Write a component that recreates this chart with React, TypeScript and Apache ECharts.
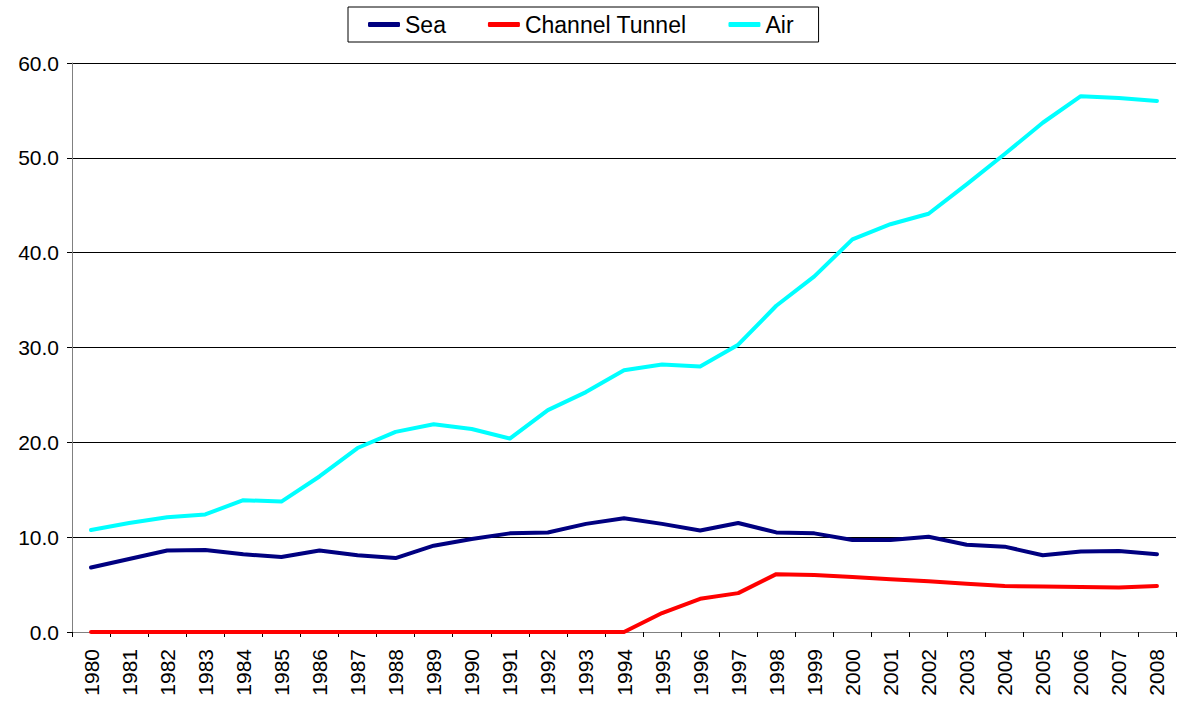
import React, { useEffect, useRef } from "react";
import * as echarts from "echarts";

const years = [
  "1980","1981","1982","1983","1984","1985","1986","1987","1988","1989",
  "1990","1991","1992","1993","1994","1995","1996","1997","1998","1999",
  "2000","2001","2002","2003","2004","2005","2006","2007","2008",
];

const sea = [
  6.8, 7.7, 8.6, 8.65, 8.2, 7.9, 8.6, 8.1, 7.8, 9.1,
  9.8, 10.4, 10.5, 11.4, 12.0, 11.4, 10.7, 11.5, 10.5, 10.4,
  9.7, 9.7, 10.05, 9.2, 9.0, 8.1, 8.5, 8.55, 8.2,
];

const channelTunnel = [
  0, 0, 0, 0, 0, 0, 0, 0, 0, 0,
  0, 0, 0, 0, 0, 2.0, 3.5, 4.1, 6.1, 6.0,
  5.8, 5.55, 5.35, 5.1, 4.85, 4.8, 4.75, 4.7, 4.85,
];

const air = [
  10.75, 11.5, 12.1, 12.4, 13.9, 13.75, 16.4, 19.4, 21.1, 21.9,
  21.4, 20.4, 23.4, 25.3, 27.6, 28.2, 28.0, 30.3, 34.4, 37.5,
  41.4, 43.0, 44.1, 47.2, 50.4, 53.7, 56.5, 56.3, 56.0,
];

const FONT = "'Liberation Sans', Arial, sans-serif";

export default function App() {
  const ref = useRef<HTMLDivElement>(null);

  useEffect(() => {
    document.body.style.margin = "0";
    if (!ref.current) return;
    const chart = echarts.init(ref.current, undefined, { renderer: "svg" });
    const mk = (name: string, data: number[], color: string) => ({
      name,
      type: "line",
      data,
      symbol: "none",
      lineStyle: { color, width: 4, cap: "round", join: "round" },
      itemStyle: { color },
    });
    chart.setOption({
      animation: false,
      backgroundColor: "#ffffff",
      textStyle: { fontFamily: FONT },
      legend: {
        top: 7,
        left: 348,
        orient: "horizontal",
        padding: [6, 25, 6, 20],
        borderColor: "#000000",
        borderWidth: 1,
        icon: "roundRect",
        itemWidth: 32,
        itemHeight: 5,
        itemGap: 42,
        textStyle: { fontFamily: FONT, fontSize: 23, color: "#000000" },
        data: ["Sea", "Channel Tunnel", "Air"],
      },
      grid: { left: 72, right: 3, top: 63, bottom: 72, containLabel: false },
      xAxis: {
        type: "category",
        data: years,
        boundaryGap: true,
        axisLine: { lineStyle: { color: "#808080", width: 1 } },
        axisTick: { show: true, length: 5, lineStyle: { color: "#000000" } },
        axisLabel: {
          rotate: 90,
          interval: 0,
          margin: 17,
          fontFamily: FONT,
          fontSize: 21,
          color: "#000000",
        },
        splitLine: { show: false },
      },
      yAxis: {
        type: "value",
        min: 0,
        max: 60,
        interval: 10,
        axisLine: { show: true, lineStyle: { color: "#808080", width: 1 } },
        axisTick: { show: true, length: 5, lineStyle: { color: "#000000" } },
        axisLabel: {
          margin: 13,
          fontFamily: FONT,
          fontSize: 21,
          color: "#000000",
          formatter: (v: number) => v.toFixed(1),
        },
        splitLine: { show: true, lineStyle: { color: "#000000", width: 1 } },
      },
      series: [
        mk("Sea", sea, "#000080"),
        mk("Channel Tunnel", channelTunnel, "#FF0000"),
        mk("Air", air, "#00FFFF"),
      ],
    });
    return () => chart.dispose();
  }, []);

  return <div ref={ref} style={{ width: 1179, height: 704 }} />;
}
